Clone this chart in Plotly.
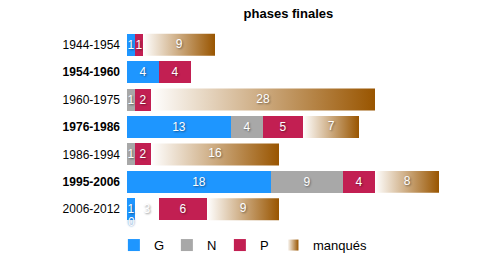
import plotly.graph_objects as go

periods = ["1944-1954", "1954-1960", "1960-1975", "1976-1986", "1986-1994", "1995-2006", "2006-2012"]
bold_rows = [False, True, False, True, False, True, False]
G = [1, 4, 0, 13, 0, 18, 1]
N = [0, 0, 1, 4, 1, 9, 3]
P = [1, 4, 2, 5, 2, 4, 6]
manques = [9, 0, 28, 7, 16, 8, 9]

col_G = "#1e96ff"
col_N = "#a8a8a8"
col_P = "#c21f52"
grad_start = "#ffffff"
grad_end = "#995500"

ypos = list(range(len(periods)))
ticktext = [f"<b>{p}</b>" if b else p for p, b in zip(periods, bold_rows)]
txt_font = dict(color="white", size=12, family="Liberation Sans, Arial", shadow="1px 1px 2px rgba(0,0,0,0.45)")

def labels(vals):
    return [str(v) if v else "" for v in vals]

fig = go.Figure()
n_colors = [col_N] * len(periods)
n_colors[6] = "rgba(0,0,0,0)"  # blank segment in the reference
for name, vals, col in [("G", G, col_G), ("N", N, n_colors), ("P", P, col_P)]:
    fig.add_trace(go.Bar(
        name=name, y=ypos, x=vals, orientation="h", width=0.8,
        marker=dict(color=col, line=dict(width=0)),
        text=labels(vals), textposition="inside", insidetextanchor="middle",
        constraintext="none", textfont=txt_font, hoverinfo="x+name",
    ))

bases = [g + n + p for g, n, p in zip(G, N, P)]
for i, (b, m) in enumerate(zip(bases, manques)):
    if m <= 0:
        continue
    fig.add_trace(go.Scatter(
        x=[b, b + m, b + m, b, b], y=[i - 0.4, i - 0.4, i + 0.4, i + 0.4, i - 0.4],
        mode="lines", fill="toself", line=dict(width=0),
        fillgradient=dict(type="horizontal", colorscale=[[0, grad_start], [1, grad_end]]),
        showlegend=False, hoverinfo="skip",
    ))

fig.add_trace(go.Scatter(
    x=[b + m / 2 for b, m in zip(bases, manques) if m > 0],
    y=[i for i, m in enumerate(manques) if m > 0],
    text=[str(m) for m in manques if m > 0],
    mode="text", textfont=txt_font, showlegend=False, hoverinfo="skip",
))

fig.add_trace(go.Scatter(
    name="manqués", x=[None], y=[None], mode="markers", legend="legend2",
    marker=dict(symbol="square", size=11, color=grad_start,
                gradient=dict(type="horizontal", color=grad_end)),
))

fig.add_annotation(x=0.5, y=6.45, text="0", showarrow=False, xref="x", yref="y",
                   font=dict(color="white", size=12, family="Liberation Sans, Arial",
                             shadow="0px 0px 2px #1e64b4"))

leg_common = dict(orientation="h", xanchor="left", yref="container", y=0.115, yanchor="top",
                  font=dict(size=13), traceorder="normal", bgcolor="rgba(0,0,0,0)")

fig.update_layout(
    width=496, height=260, barmode="stack",
    margin=dict(l=127, r=41, t=31, b=37, autoexpand=False),
    paper_bgcolor="white", plot_bgcolor="white",
    font=dict(family="Liberation Sans, Arial", size=12, color="black"),
    title=dict(text="<b>phases finales</b>", x=0.5815, xanchor="center", y=0.947, yanchor="middle",
               font=dict(size=13, color="black")),
    xaxis=dict(range=[0, 41], visible=False, fixedrange=True),
    yaxis=dict(tickvals=ypos, ticktext=ticktext, range=[6.5, -0.5], showgrid=False,
               zeroline=False, showline=False, ticks="", ticklabelstandoff=6),
    showlegend=True,
    legend=dict(x=-0.04, entrywidth=8, entrywidthmode="pixels", **leg_common),
    legend2=dict(x=0.445, **leg_common),
)

fig.write_html("out.html")
